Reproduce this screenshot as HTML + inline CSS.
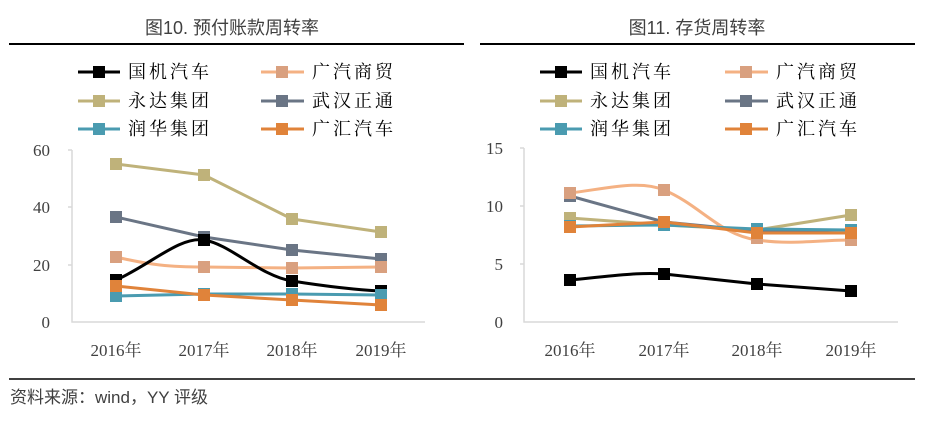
<!DOCTYPE html>
<html><head><meta charset="utf-8"><style>
body{margin:0;background:#fff;width:929px;height:419px;overflow:hidden;font-family:"Liberation Sans","Noto Sans CJK SC",sans-serif}
</style></head><body>
<svg width="929" height="419" xmlns="http://www.w3.org/2000/svg" font-family="Liberation Serif, Noto Serif CJK SC, serif">
<g font-family="Liberation Sans, Noto Sans CJK SC, sans-serif" font-size="18" fill="#404040" text-anchor="middle">
<text x="232" y="34">图10. 预付账款周转率</text>
<text x="697" y="34">图11. 存货周转率</text>
</g>
<line x1="9" y1="44" x2="464" y2="44" stroke="#000" stroke-width="2"/>
<line x1="480" y1="44" x2="915" y2="44" stroke="#000" stroke-width="2"/>
<line x1="9" y1="379" x2="915" y2="379" stroke="#000" stroke-width="1.5"/>
<text x="10" y="403" font-family="Liberation Sans, Noto Sans CJK SC, sans-serif" font-size="17" fill="#404040">资料来源：wind，YY 评级</text>

<g font-size="18" fill="#000" font-family="Noto Serif CJK SC, serif" letter-spacing="3">
<g stroke-width="3">
<line x1="78" y1="72" x2="120" y2="72" stroke="#000"/><rect x="93" y="66" width="12" height="12" fill="#000"/>
<line x1="78" y1="101" x2="120" y2="101" stroke="#bfb27a"/><rect x="93" y="95" width="12" height="12" fill="#bfb27a"/>
<line x1="78" y1="129" x2="120" y2="129" stroke="#4a9bb0"/><rect x="93" y="123" width="12" height="12" fill="#4a9bb0"/>
<line x1="261" y1="72" x2="304" y2="72" stroke="#f4b183"/><rect x="276" y="66" width="12" height="12" fill="#d9a07f"/>
<line x1="261" y1="101" x2="304" y2="101" stroke="#6a7585"/><rect x="276" y="95" width="12" height="12" fill="#6a7585"/>
<line x1="261" y1="129" x2="304" y2="129" stroke="#e0833a"/><rect x="276" y="123" width="12" height="12" fill="#e0833a"/>
<line x1="540" y1="72" x2="582" y2="72" stroke="#000"/><rect x="555" y="66" width="12" height="12" fill="#000"/>
<line x1="540" y1="101" x2="582" y2="101" stroke="#bfb27a"/><rect x="555" y="95" width="12" height="12" fill="#bfb27a"/>
<line x1="540" y1="129" x2="582" y2="129" stroke="#4a9bb0"/><rect x="555" y="123" width="12" height="12" fill="#4a9bb0"/>
<line x1="725" y1="72" x2="768" y2="72" stroke="#f4b183"/><rect x="740" y="66" width="12" height="12" fill="#d9a07f"/>
<line x1="725" y1="101" x2="768" y2="101" stroke="#6a7585"/><rect x="740" y="95" width="12" height="12" fill="#6a7585"/>
<line x1="725" y1="129" x2="768" y2="129" stroke="#e0833a"/><rect x="740" y="123" width="12" height="12" fill="#e0833a"/>
</g>
<text x="128" y="78">国机汽车</text><text x="128" y="107">永达集团</text><text x="128" y="135">润华集团</text>
<text x="312" y="78">广汽商贸</text><text x="312" y="107">武汉正通</text><text x="312" y="135">广汇汽车</text>
<text x="590" y="78">国机汽车</text><text x="590" y="107">永达集团</text><text x="590" y="135">润华集团</text>
<text x="776" y="78">广汽商贸</text><text x="776" y="107">武汉正通</text><text x="776" y="135">广汇汽车</text>
</g>

<g stroke="#d9d9d9" stroke-width="1.5" fill="none">
<path d="M72 150 V322 H425 M68 150 H72 M68 207 H72 M68 265 H72"/>
<path d="M524 148 V322 H898 M520 148 H524 M520 206 H524 M520 264 H524"/>
</g>
<g font-size="17" fill="#404040" text-anchor="end">
<text x="50" y="156">60</text><text x="50" y="213">40</text><text x="50" y="271">20</text><text x="50" y="328">0</text>
<text x="503" y="154">15</text><text x="503" y="212">10</text><text x="503" y="270">5</text><text x="503" y="328">0</text>
</g>
<g font-size="17" fill="#404040" text-anchor="middle">
<text x="116" y="356">2016年</text><text x="204" y="356">2017年</text><text x="292" y="356">2018年</text><text x="381" y="356">2019年</text>
<text x="570" y="356">2016年</text><text x="664" y="356">2017年</text><text x="757" y="356">2018年</text><text x="851" y="356">2019年</text>
</g>

<g fill="none" stroke-width="3" stroke-linejoin="round">
<path d="M116 164 L204 175 L292 219 L381 232" stroke="#bfb27a"/>
<path d="M116 217 L204 237 L292 250 L381 259" stroke="#6a7585"/>
<path d="M116 257 C150 265,170 267,204 267 L292 268 L381 267" stroke="#f4b183"/>
<path d="M116 280 C150 265,180 236,204 240 C230 244,260 276,292 281 C330 287,360 290,381 291" stroke="#000"/>
<path d="M116 296 L204 294 L292 294 L381 295" stroke="#4a9bb0"/>
<path d="M116 286 L204 295 L292 300 L381 305" stroke="#e0833a"/>

<path d="M570 218 L664 225 L757 230 L851 215" stroke="#bfb27a"/>
<path d="M570 196 L664 222 L757 231 L851 233" stroke="#6a7585"/>
<path d="M570 193 C610 188,640 180,664 190 C700 205,720 235,757 240 C790 245,820 240,851 240" stroke="#f4b183"/>
<path d="M570 280 C610 276,640 272,664 274 L757 284 L851 291" stroke="#000"/>
<path d="M570 226 L664 225 L757 229 L851 230" stroke="#4a9bb0"/>
<path d="M570 227 L664 222 L757 233 L851 233" stroke="#e0833a"/>
</g>
<g>
<g fill="#bfb27a"><rect x="110" y="158" width="12" height="12"/><rect x="198" y="169" width="12" height="12"/><rect x="286" y="213" width="12" height="12"/><rect x="375" y="226" width="12" height="12"/>
<rect x="564" y="212" width="12" height="12"/><rect x="658" y="219" width="12" height="12"/><rect x="751" y="224" width="12" height="12"/><rect x="845" y="209" width="12" height="12"/></g>
<g fill="#6a7585"><rect x="110" y="211" width="12" height="12"/><rect x="198" y="231" width="12" height="12"/><rect x="286" y="244" width="12" height="12"/><rect x="375" y="253" width="12" height="12"/>
<rect x="564" y="190" width="12" height="12"/><rect x="658" y="216" width="12" height="12"/><rect x="751" y="225" width="12" height="12"/><rect x="845" y="227" width="12" height="12"/></g>
<g fill="#d9a07f"><rect x="110" y="251" width="12" height="12"/><rect x="198" y="261" width="12" height="12"/><rect x="286" y="262" width="12" height="12"/><rect x="375" y="261" width="12" height="12"/>
<rect x="564" y="187" width="12" height="12"/><rect x="658" y="184" width="12" height="12"/><rect x="751" y="232" width="12" height="12"/><rect x="845" y="234" width="12" height="12"/></g>
<g fill="#000"><rect x="110" y="274" width="12" height="12"/><rect x="198" y="234" width="12" height="12"/><rect x="286" y="275" width="12" height="12"/><rect x="375" y="285" width="12" height="12"/>
<rect x="564" y="274" width="12" height="12"/><rect x="658" y="268" width="12" height="12"/><rect x="751" y="278" width="12" height="12"/><rect x="845" y="285" width="12" height="12"/></g>
<g fill="#4a9bb0"><rect x="110" y="290" width="12" height="12"/><rect x="198" y="288" width="12" height="12"/><rect x="286" y="288" width="12" height="12"/><rect x="375" y="289" width="12" height="12"/>
<rect x="564" y="220" width="12" height="12"/><rect x="658" y="219" width="12" height="12"/><rect x="751" y="223" width="12" height="12"/><rect x="845" y="224" width="12" height="12"/></g>
<g fill="#e0833a"><rect x="110" y="280" width="12" height="12"/><rect x="198" y="289" width="12" height="12"/><rect x="286" y="294" width="12" height="12"/><rect x="375" y="299" width="12" height="12"/>
<rect x="564" y="221" width="12" height="12"/><rect x="658" y="216" width="12" height="12"/><rect x="751" y="227" width="12" height="12"/><rect x="845" y="227" width="12" height="12"/></g>
</g>
</svg>
</body></html>
